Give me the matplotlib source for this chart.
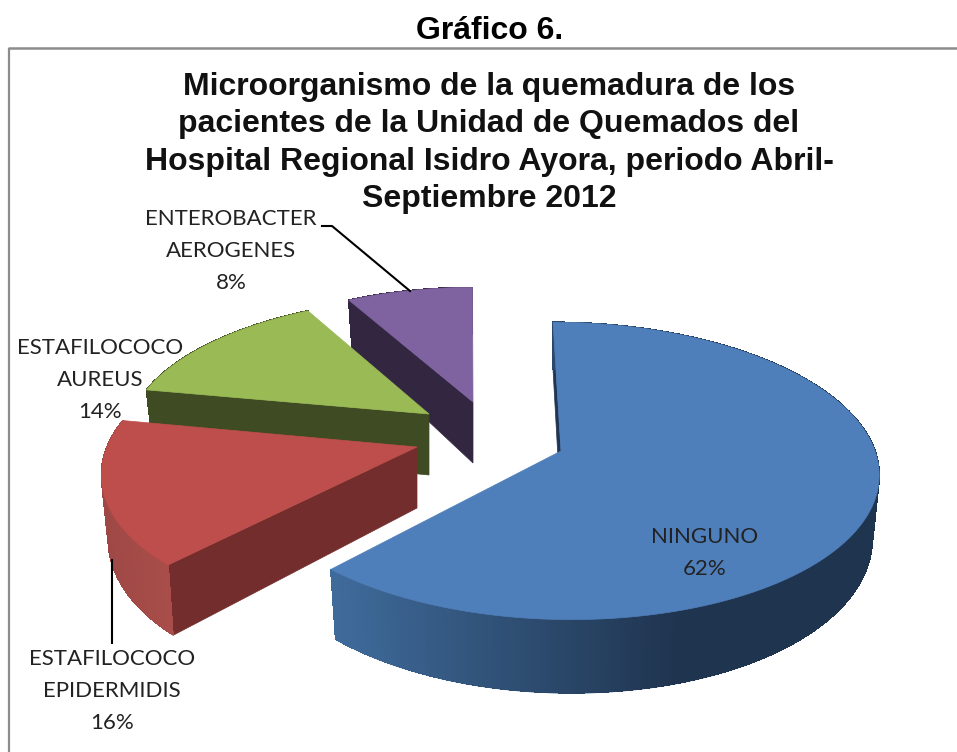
import numpy as np
import matplotlib
matplotlib.use('Agg')
import matplotlib.pyplot as plt
from matplotlib.colors import LinearSegmentedColormap
from matplotlib.patches import Polygon

# values, clockwise from 12 o'clock
names = ['NINGUNO', 'ESTAFILOCOCO\nEPIDERMIDIS', 'ESTAFILOCOCO\nAUREUS', 'ENTEROBACTER\nAEROGENES']
percents = [62, 16, 14, 8]

top_colors = ['#4f7fba', '#bd4e4b', '#99ba55', '#7f62a0']
face_colors = ['#1f3552', '#722d2c', '#3f4b22', '#332640']
side_stops = [['#3f6b9b', '#1f344f'], ['#9e4845', '#aa4e4a'],
              ['#3f4b22', '#3f4b22'], ['#332640', '#332640']]

# pixel layout of each exploded slice: apex x, apex y, radius, y scale, skew
slice_layout = [(561, 451, 314, 146, -9), (417, 447, 310, 146, 17),
                (429, 414, 297, 132, 11), (473, 402, 290, 130, 1)]
side_range = [(333, 680), (100, 175), (146, 430), (348, 473)]
label_xy = [(705, 553), (112, 691), (100, 380), (231, 251)]
k = 0.134

fig = plt.figure(figsize=(9.57, 7.52), dpi=100)
ax = fig.add_axes([0, 0, 1, 1])
ax.set_xlim(0, 957)
ax.set_ylim(752, 0)
ax.axis('off')


def project(theta, layout, r=1.0):
    x0, y0, radius, a, skew = layout
    u, v = r * np.sin(theta), r * np.cos(theta)
    w = 1 + k * v
    x = x0 + (radius * u + skew * v) / w
    y = y0 - a * v / w
    depth = 61 - 13 * v
    return np.column_stack([x, y]), np.column_stack([x - 7 * u, y + depth])


def draw_slice(start, stop, i):
    layout = slice_layout[i]
    thetas = np.radians(np.arange(start, stop + 0.01, 0.5))
    top, bottom = project(thetas, layout)
    apex, apex_low = project(np.array([0.0]), layout, r=0.0)
    # flat face of the cut
    ax.add_patch(Polygon([top[0], bottom[0], apex_low[0], apex[0]], closed=True,
                         fc=face_colors[i], ec=face_colors[i], lw=0.5))
    # outer rim, shaded along x. smooth base under unsmoothed strips so there are no seams
    cmap = LinearSegmentedColormap.from_list('side', side_stops[i])
    x_lo, x_hi = side_range[i]
    ax.add_patch(Polygon(np.vstack([top, bottom[::-1]]), closed=True, fc=cmap(0.5), ec='none'))
    inset = bottom - [0, 0.8]
    for j in range(len(thetas) - 1):
        c = cmap(np.clip((top[j, 0] - x_lo) / (x_hi - x_lo), 0, 1))
        ax.add_patch(Polygon([top[j], top[j + 1], inset[j + 1], inset[j]], closed=True,
                             fc=c, ec=c, lw=0.5, antialiased=False))
    ax.add_patch(Polygon(np.vstack([apex, top]), closed=True, fc=top_colors[i],
                         ec=top_colors[i], lw=0.5))


angles = np.cumsum([0] + percents) * 3.6
for i in [3, 2, 1, 0]:
    draw_slice(angles[i], angles[i + 1], i)

# frame
ax.plot([9, 9], [752, 48], color='#8c8c8c', lw=1.6, solid_capstyle='butt')
ax.plot([8, 957], [48, 48], color='#8c8c8c', lw=1.8, solid_capstyle='butt')

# leader lines
ax.plot([322, 332, 410], [226, 226, 291], color='black', lw=1.5)
ax.plot([112, 112], [560, 643], color='black', lw=1.5)

ax.text(490, 31, 'Gráfico 6.', ha='center', va='center', fontsize=23,
        fontweight='bold', family='Liberation Sans', color='black')

title_lines = ['Microorganismo de la quemadura de los', 'pacientes de la Unidad de Quemados del',
               'Hospital Regional Isidro Ayora, periodo Abril-', 'Septiembre 2012']
for y, line in zip([87, 124, 162, 199], title_lines):
    ax.text(489, y, line, ha='center', va='center', fontsize=23, fontweight='bold',
            family='Liberation Sans', color='#111111')

for i in range(4):
    ax.text(label_xy[i][0], label_xy[i][1], '{}\n{}%'.format(names[i], percents[i]),
            ha='center', va='center', fontsize=16, family='Lato', color='#222222',
            linespacing=1.72)

fig.savefig('out.png', dpi=100)
